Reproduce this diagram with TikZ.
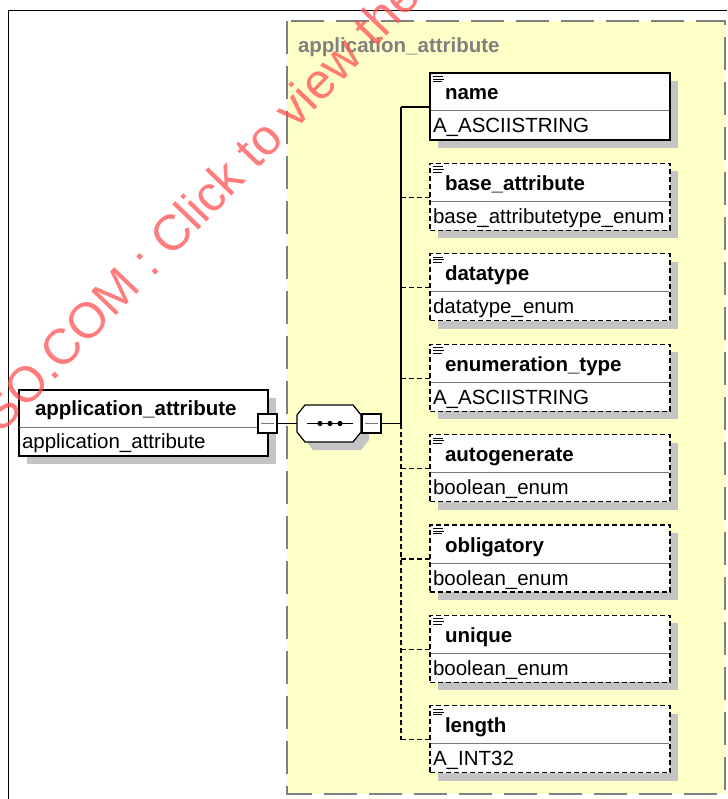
\documentclass[tikz,border=0pt]{standalone}
\usepackage{fontspec}
\setmainfont{Liberation Sans}
\usepackage{xcolor}
\usetikzlibrary{positioning}
\definecolor{groupfill}{RGB}{255,255,200}
\definecolor{groupline}{RGB}{128,128,128}
\definecolor{shadowgray}{RGB}{196,196,196}
\definecolor{divline}{RGB}{120,120,120}
\definecolor{marktext}{RGB}{255,80,80}

\begin{document}
\begin{tikzpicture}[
    x=1pt, y=-1pt,
    every node/.style={font=\fontsize{20.5}{24}\selectfont, inner sep=0pt, outer sep=0pt},
    elembox/.style={rectangle, draw, line width=1.3pt, fill=white, minimum width=240pt, minimum height=67pt, anchor=north west},
    optbox/.style={elembox, dash pattern=on 5pt off 3pt},
    minusbox/.style={rectangle, draw, line width=1.1pt, fill=white, minimum width=19pt, minimum height=19pt},
    title/.style={anchor=base west, font=\fontsize{20.5}{24}\selectfont\bfseries},
    typename/.style={anchor=base west},
    busline/.style={line width=1.2pt},
    optline/.style={line width=1.2pt, dash pattern=on 5pt off 3pt}
]
\useasboundingbox (0,0) rectangle (727,799);
\clip (0,0) rectangle (727,799);
\draw[line width=1.5pt] (8.5,799) -- (8.5,10.5) -- (727,10.5);

\draw[groupline, fill=groupfill, line width=1.5pt, dash pattern=on 33pt off 12pt] (287,21) rectangle (725,794);
\node[title, text=groupline] (grouplabel) at (298,53) {application\_attribute};

\fill[shadowgray] (27,398) rectangle ++(249,66);
\node[elembox, minimum width=249pt, minimum height=66pt] (appattr) at (19,390) {};
\draw[divline, line width=1pt] (appattr.west |- 0,427) -- (appattr.east |- 0,427);
\node[title] (appattr-title) at (35,415) {application\_attribute};
\node[typename] (appattr-type) at (22,448) {application\_attribute};
\node[minusbox] (appminus) at (267.5,423.5) {};
\draw[divline, line width=1.3pt] ([xshift=3pt]appminus.west) -- ([xshift=-3pt]appminus.east);

\fill[shadowgray] (305,423) -- (313,413) -- (361,413) -- (369,423) -- (369,440) -- (361,450) -- (313,450) -- (305,440) -- cycle;
\draw[line width=1.2pt, fill=white] (297,415) -- (305,405) -- (353,405) -- (361,415) -- (361,432) -- (353,442) -- (305,442) -- (297,432) -- cycle;
\node[minimum width=64pt, minimum height=37pt] (seq) at (329,423.5) {};
\draw[line width=1.2pt] (307,423.5) -- (353,423.5);
\foreach \dx in {320,330,340}
  \fill (\dx,423.5) circle (2.6pt);
\node[minusbox] (seqminus) at (371.5,423.5) {};
\draw[divline, line width=1.3pt] ([xshift=3pt]seqminus.west) -- ([xshift=-3pt]seqminus.east);

\coordinate (hub) at (401,423.5);
\draw[busline] (appminus.east) -- (seq.west);
\draw[busline] (seqminus.east) -- (hub);

\foreach \i/\elname/\eltype/\elstyle/\elline in {
    0/name/A\_ASCIISTRING/elembox/busline,
    1/base\_attribute/base\_attributetype\_enum/optbox/optline,
    2/datatype/datatype\_enum/optbox/optline,
    3/enumeration\_type/A\_ASCIISTRING/optbox/optline,
    4/autogenerate/boolean\_enum/optbox/optline,
    5/obligatory/boolean\_enum/optbox/optline,
    6/unique/boolean\_enum/optbox/optline,
    7/length/A\_INT32/optbox/optline} {
  \pgfmathsetmacro\ytop{73+90.4*\i}
  \fill[shadowgray] (438,\ytop+8) rectangle ++(240,67);
  \node[\elstyle] (child\i) at (430,\ytop) {};
  \draw[divline, line width=1pt] (431,\ytop+38) -- (669,\ytop+38);
  \foreach \k/\len in {3.5/10,6.2/11,8.9/9}
    \draw[line width=1pt] (433,\ytop+\k) -- ++(\len,0);
  \node[title] (child\i-title) at (445,\ytop+27) {\elname};
  \node[typename] (child\i-type) at (433,\ytop+60) {\eltype};
  \coordinate (tap\i) at (401,\ytop+34);
  \draw[\elline] (tap\i) -- (tap\i -| child\i.west);
}

\draw[busline] (tap0) -- (hub);
\draw[optline] (hub) -- (tap7);

\node[rotate=46, anchor=base west, text=marktext, opacity=0.75, font=\fontsize{50}{60}\selectfont] (watermark) at (2,434) {SO.COM : Click to view the};
\end{tikzpicture}
\end{document}
